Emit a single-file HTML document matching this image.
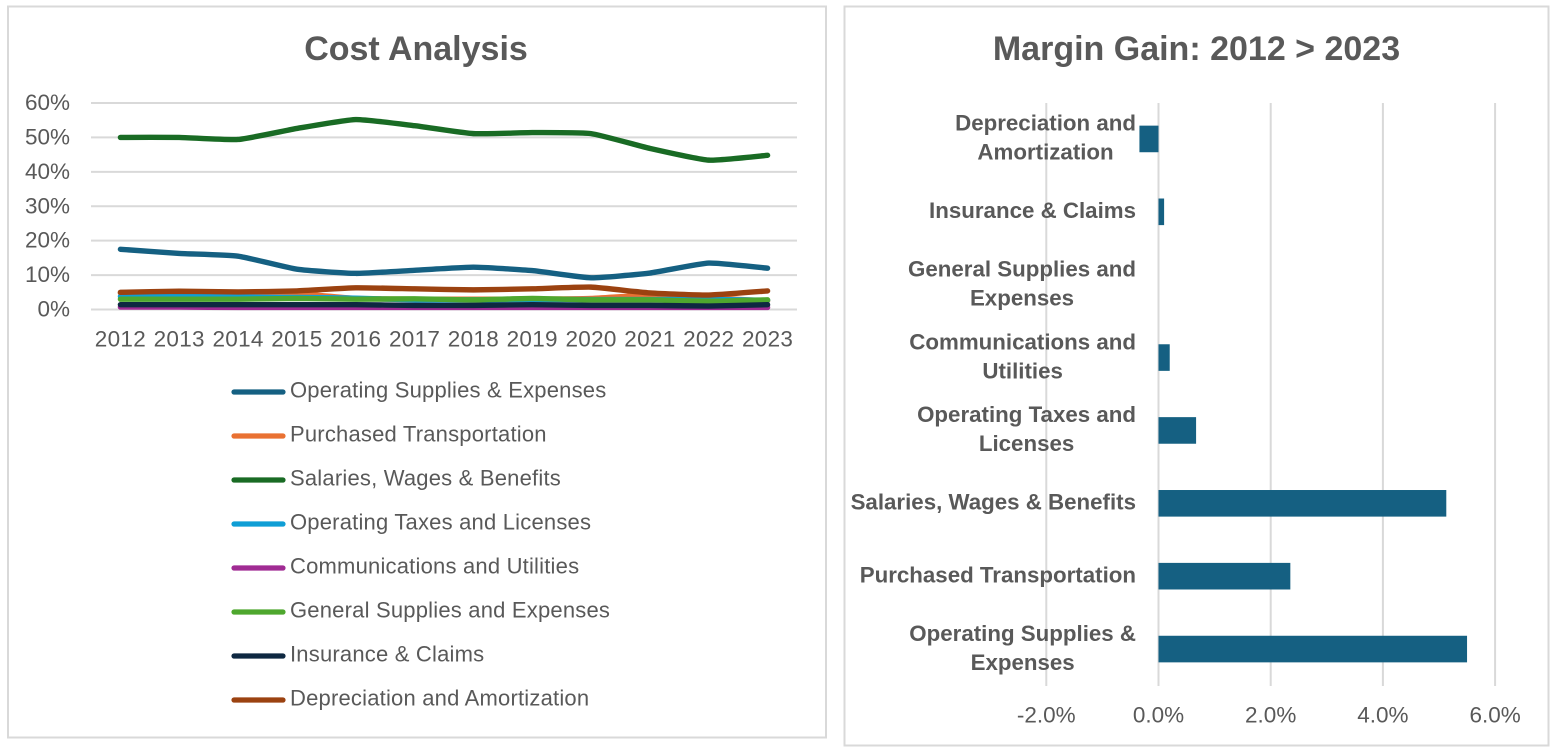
<!DOCTYPE html>
<html lang="en">
<head>
<meta charset="utf-8">
<title>Cost Analysis and Margin Gain</title>
<style>
html,body{margin:0;padding:0;background:#fff;width:1564px;height:750px;overflow:hidden}
svg{display:block;font-family:"Liberation Sans",Arial,sans-serif}
</style>
</head>
<body>
<svg id="root" width="1564" height="750" viewBox="0 0 1564 750">
  <rect x="8" y="6.5" width="818" height="731" fill="#fff" stroke="#d9d9d9" stroke-width="2"/>
  <rect x="844.5" y="6.5" width="704" height="739" fill="#fff" stroke="#d9d9d9" stroke-width="2"/>
  <text x="416" y="60" text-anchor="middle" font-size="34" font-weight="700" fill="#595959">Cost Analysis</text>
  <text x="1196.5" y="60" text-anchor="middle" font-size="34" font-weight="700" fill="#595959">Margin Gain: 2012 &gt; 2023</text>
  <g id="line-chart"></g>
  <g id="bar-chart"></g>
</svg>
<script>
const years = ['2012','2013','2014','2015','2016','2017','2018','2019','2020','2021','2022','2023'];
const lineTicks = [0,10,20,30,40,50,60];
const seriesNames = ['Operating Supplies & Expenses','Purchased Transportation','Salaries, Wages & Benefits','Operating Taxes and Licenses','Communications and Utilities','General Supplies and Expenses','Insurance & Claims','Depreciation and Amortization'];
const operatingSupplies = [17.5,16.3,15.5,11.7,10.5,11.4,12.3,11.3,9.2,10.6,13.5,12.0];
const purchasedTransportation = [4.8,4.8,4.0,4.6,3.2,3.0,3.0,3.0,3.2,4.2,3.4,2.5];
const salariesWages = [50.0,50.0,49.4,52.6,55.2,53.4,51.1,51.4,51.1,46.8,43.4,44.8];
const operatingTaxes = [3.8,3.8,3.6,3.5,3.3,2.8,2.8,2.9,2.9,2.9,2.9,2.7];
const communications = [0.7,0.7,0.6,0.6,0.6,0.6,0.6,0.6,0.6,0.6,0.6,0.6];
const generalSupplies = [3.0,3.0,3.0,3.2,3.0,3.1,2.8,3.2,2.8,2.8,2.4,2.8];
const insuranceClaims = [1.4,1.4,1.4,1.4,1.4,1.2,1.2,1.4,1.2,1.2,1.0,1.4];
const depreciation = [5.0,5.3,5.1,5.4,6.3,6.0,5.7,6.0,6.5,4.8,4.2,5.4];
const seriesValues = [operatingSupplies,purchasedTransportation,salariesWages,operatingTaxes,communications,generalSupplies,insuranceClaims,depreciation];
const seriesColors = ['#156082','#e97132','#196b24','#0f9ed5','#a02b93','#4ea72e','#0e2841','#9b4210'];

const barCategories = ['Operating Supplies & Expenses','Purchased Transportation','Salaries, Wages & Benefits','Operating Taxes and Licenses','Communications and Utilities','General Supplies and Expenses','Insurance & Claims','Depreciation and Amortization'];
const barLabelLines = [['Operating Supplies &','Expenses'],['Purchased Transportation'],['Salaries, Wages & Benefits'],['Operating Taxes and','Licenses'],['Communications and','Utilities'],['General Supplies and','Expenses'],['Insurance & Claims'],['Depreciation and','Amortization']];
const barValues = [5.5,2.35,5.13,0.67,0.2,0,0.1,-0.34];
const barTicks = [-2,0,2,4,6];

const NS = 'http://www.w3.org/2000/svg';
function make(parent, tag, attrs, text) {
  const el = document.createElementNS(NS, tag);
  for (const k in attrs) el.setAttribute(k, attrs[k]);
  if (text !== undefined) el.textContent = text;
  parent.appendChild(el);
  return el;
}

/* line chart */
const lc = document.getElementById('line-chart');
const plotL = 91, plotR = 797, plotT = 103, plotB = 309.5;
const xBand = (plotR - plotL) / years.length;
const xLine = i => plotL + xBand * (i + 0.5);
const yLine = v => plotB - (v / 60) * (plotB - plotT);

lineTicks.forEach(t => {
  const g = make(lc, 'line', {x1: plotL, x2: plotR, y1: yLine(t), y2: yLine(t), stroke: '#d9d9d9', 'stroke-width': 2});
  
  
  const l = make(lc, 'text', {x: 70, y: yLine(t) + 7, 'text-anchor': 'end', 'font-size': 22.5, fill: '#595959'}, t + '%');
  
  
});
years.forEach((yr, i) => {
  const l = make(lc, 'text', {x: xLine(i), y: 346.5, 'text-anchor': 'middle', 'font-size': 22.5, 'letter-spacing': 0.3, fill: '#595959'}, yr);
  
  
});
function smoothPath(vals) {
  const p = vals.map((v, i) => [xLine(i), yLine(v)]);
  let d = 'M' + p[0][0] + ' ' + p[0][1];
  for (let i = 0; i < p.length - 1; i++) {
    const a = p[Math.max(i - 1, 0)], b = p[i], c = p[i + 1], e = p[Math.min(i + 2, p.length - 1)];
    const k = 0.08;
    d += ' C' + (b[0] + (c[0] - a[0]) * k) + ' ' + (b[1] + (c[1] - a[1]) * k) + ' ' +
         (c[0] - (e[0] - b[0]) * k) + ' ' + (c[1] - (e[1] - b[1]) * k) + ' ' + c[0] + ' ' + c[1];
  }
  return d;
}
seriesValues.forEach((vals, s) => {
  const path = make(lc, 'path', {d: smoothPath(vals), fill: 'none', stroke: seriesColors[s], 'stroke-width': 5.4, 'stroke-linecap': 'round', 'stroke-linejoin': 'round'});
  
  
});
seriesNames.forEach((name, s) => {
  const y = 392 + s * 44;
  const sw = make(lc, 'line', {x1: 234, x2: 283, y1: y, y2: y, stroke: seriesColors[s], 'stroke-width': 5.2, 'stroke-linecap': 'round'});
  
  
  const t = make(lc, 'text', {x: 290, y: y + 5.4, 'font-size': 22, 'letter-spacing': 0.2, fill: '#595959'}, name);
  
  
});

/* bar chart */
const bc = document.getElementById('bar-chart');
const barT = 103, barB = 686;
const xBar = v => 1158.5 + v * 56.1;
const band = (barB - barT) / barCategories.length;
const yBar = i => barB - band * (i + 0.5);

barTicks.forEach(t => {
  const g = make(bc, 'line', {x1: xBar(t), x2: xBar(t), y1: barT, y2: barB, stroke: '#d9d9d9', 'stroke-width': 2});
  
  
  const l = make(bc, 'text', {x: xBar(t), y: 722.5, 'text-anchor': 'middle', 'font-size': 22.5, fill: '#595959'}, t.toFixed(1) + '%');
  
  
});
barValues.forEach((v, i) => {
  const x0 = Math.min(xBar(0), xBar(v)), w = Math.abs(xBar(v) - xBar(0));
  const r = make(bc, 'rect', {x: x0, y: yBar(i) - 13.8, width: w, height: 26.6, fill: '#156082'});
  
  
  const lines = barLabelLines[i];
  const texts = lines.map((ln, j) => make(bc, 'text', {y: yBar(i) + 5.7 + (j - (lines.length - 1) / 2) * 29, 'text-anchor': 'middle', 'font-size': 22.3, 'font-weight': 700, fill: '#595959'}, ln));
  const maxW = Math.max(...texts.map(t => t.getComputedTextLength()));
  texts.forEach(t => {
    t.setAttribute('x', 1136 - maxW / 2);
    
    
  });
});
</script>
</body>
</html>
